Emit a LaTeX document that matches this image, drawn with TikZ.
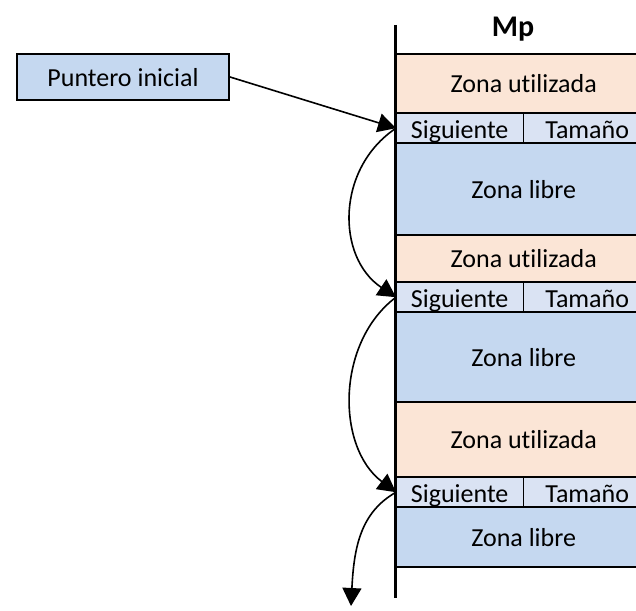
\documentclass[tikz,border=0pt]{standalone}
\usepackage{fontspec}
\setmainfont{Carlito}[Ligatures=NoCommon]
\usetikzlibrary{arrows.meta}
\definecolor{usadacolor}{HTML}{FBE5D6}
\definecolor{librecolor}{HTML}{C5D8F0}
\definecolor{campocolor}{HTML}{DAE3F3}

\begin{document}
\begin{tikzpicture}[x=1pt,y=1pt,
  bloque/.style={anchor=north west, inner sep=0pt, minimum width=255pt, font=\fontsize{26}{30}\selectfont},
  usada/.style={bloque, fill=usadacolor},
  libre/.style={bloque, fill=librecolor},
  campo/.style={bloque, fill=campocolor, minimum height=30pt, minimum width=127pt, text height=20pt, text depth=0pt},
  sep/.style={line width=2pt},
  ptr/.style={line width=1.6pt, -{Triangle[length=18pt,width=19pt]}}]
  \useasboundingbox (0,0) rectangle (636,-610);
  \clip (0,0) rectangle (636,-610);
  % first block
  \node[usada, minimum height=59pt] (zu1) at (396,-54) {Zona utilizada};
  \node[campo] (sig1) at (396,-113) {Siguiente};
  \node[campo, minimum width=128pt] (tam1) at (523,-113) {Tamaño};
  \node[libre, minimum height=92pt] (zl1) at (396,-143) {Zona libre};
  % second block
  \node[usada, minimum height=47pt] (zu2) at (396,-235) {Zona utilizada};
  \node[campo] (sig2) at (396,-282) {Siguiente};
  \node[campo, minimum width=128pt] (tam2) at (523,-282) {Tamaño};
  \node[libre, minimum height=90pt] (zl2) at (396,-312) {Zona libre};
  % third block
  \node[usada, minimum height=75pt] (zu3) at (396,-402) {Zona utilizada};
  \node[campo] (sig3) at (396,-477) {Siguiente};
  \node[campo, minimum width=128pt] (tam3) at (523,-477) {Tamaño};
  \node[libre, minimum height=60pt] (zl3) at (396,-507) {Zona libre};
  % borders between the zones
  \foreach \z in {zu1,zl1,zu2,zl2,zu3,zl3}
    \draw[sep] (\z.north west) -- (\z.north east) (\z.south west) -- (\z.south east);
  \foreach \s in {sig1,sig2,sig3}
    \draw[line width=1.5pt] (\s.north east) -- (\s.south east);
  % memory axis
  \coordinate (ejetop) at (395,-25); \coordinate (ejebot) at (395,-598);
  \draw[line width=3pt] (ejetop) -- (ejebot);
  \node[font=\fontsize{30}{34}\selectfont\bfseries] (mp) at (513,-29) {Mp};
  % start pointer
  \node[draw, line width=2pt, fill=librecolor, minimum width=212pt, minimum height=46pt, inner sep=0pt,
    text depth=0pt, font=\fontsize{26}{30}\selectfont] (pi) at (123,-77) {Puntero inicial};
  % free list links
  \coordinate (fin) at (351,-606);
  \draw[ptr] (pi.east) -- (sig1.west);
  \draw[ptr] (sig1.west) .. controls +(-60,-40) and +(-60,40) .. (sig2.west);
  \draw[ptr] (sig2.west) .. controls +(-60,-45) and +(-60,45) .. (sig3.west);
  \draw[ptr] (sig3.west) .. controls +(-35,-20) and +(3,60) .. (fin);
\end{tikzpicture}
\end{document}
